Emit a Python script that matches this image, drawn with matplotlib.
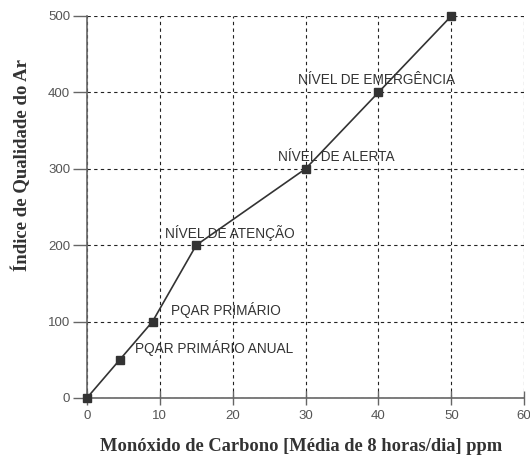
import matplotlib
matplotlib.use("Agg")
import matplotlib.pyplot as plt

co_ppm = [0, 4.5, 9, 15, 30, 40, 50]
iqa = [0, 50, 100, 200, 300, 400, 500]
label_text = ["PQAR PRIMÁRIO ANUAL", "PQAR PRIMÁRIO", "NÍVEL DE ATENÇÃO",
              "NÍVEL DE ALERTA", "NÍVEL DE EMERGÊNCIA"]
label_x = [6.6, 11.5, 10.7, 26.2, 29.0]
label_y = [65, 115, 216, 316, 416]
x_ticks = [0, 10, 20, 30, 40, 50, 60]
y_ticks = [0, 100, 200, 300, 400, 500]

fig = plt.figure(figsize=(5.3, 4.61), dpi=100)
ax = fig.add_axes([0.164, 0.1367, 0.825, 0.8286])
ax.set_xlim(0, 60)
ax.set_ylim(0, 500)
ax.grid(True, color="#222222", linestyle=(0, (3, 3)), linewidth=0.8)
ax.set_axisbelow(True)
ax.plot(co_ppm, iqa, color="#333333", linewidth=1.2, marker="s",
        markersize=6, markerfacecolor="#333333", markeredgecolor="#333333",
        clip_on=False, zorder=3)
for t, x, y in zip(label_text, label_x, label_y):
    ax.text(x, y, t, fontsize=9.8, family="Liberation Sans", color="#333333",
            ha="left", va="center", zorder=4)

for s in ["top", "right"]:
    ax.spines[s].set_visible(False)
for s in ["left", "bottom"]:
    ax.spines[s].set_color("#666666")
    ax.spines[s].set_linewidth(1.2)
ax.set_xticks(x_ticks)
ax.set_yticks(y_ticks)
ax.tick_params(axis="y", direction="out", length=10, color="#666666", width=1,
               labelsize=9.5, labelcolor="#555555", pad=2)
ax.tick_params(axis="x", direction="inout", length=10, color="#666666", width=1,
               labelsize=9.5, labelcolor="#555555", pad=4)
for lab in ax.get_xticklabels() + ax.get_yticklabels():
    lab.set_family("Liberation Sans")
ax.set_xlabel("Monóxido de Carbono [Média de 8 horas/dia] ppm",
              family="Liberation Serif", fontweight="bold", fontsize=13.3,
              color="#333333", va="center", ha="center")
ax.xaxis.set_label_coords(0.49, -0.128)
ax.set_ylabel("Índice de Qualidade do Ar", family="Liberation Serif",
              fontweight="bold", fontsize=13.5, color="#333333",
              va="center", ha="center")
ax.yaxis.set_label_coords(-0.151, 0.61)
fig.savefig("out.png", dpi=100)
